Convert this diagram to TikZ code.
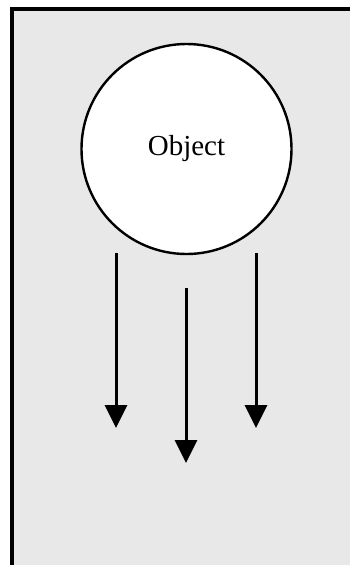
\documentclass[tikz,border=0pt]{standalone}
\usepackage{fontspec}
\setmainfont{Liberation Serif}
\usetikzlibrary{arrows.meta}

\tikzset{fall/.style={line width=3pt, -{Triangle[width=22pt,length=23pt]}}}

\begin{document}
\begin{tikzpicture}[x=1pt,y=-1pt]
\useasboundingbox (0,0) rectangle (350,565);
\clip (0,0) rectangle (350,565);
\fill[black!9] (12,9) rectangle (360,575);
\draw[line width=3.5pt] (12,575)--(12,9)--(360,9);
\node[circle, draw, line width=2.4pt, fill=white, minimum size=210pt, inner sep=0pt,
  font=\fontsize{29}{31}\selectfont] (obj) at (186.5,149) {Object};
% the three falling paths
\coordinate (l0) at (116,253); \coordinate (l1) at (116,428);
\coordinate (m0) at (186,288); \coordinate (m1) at (186,463);
\coordinate (r0) at (256,253); \coordinate (r1) at (256,428);
\draw[fall] (l0)--(l1);
\draw[fall] (m0)--(m1);
\draw[fall] (r0)--(r1);
\end{tikzpicture}
\end{document}
